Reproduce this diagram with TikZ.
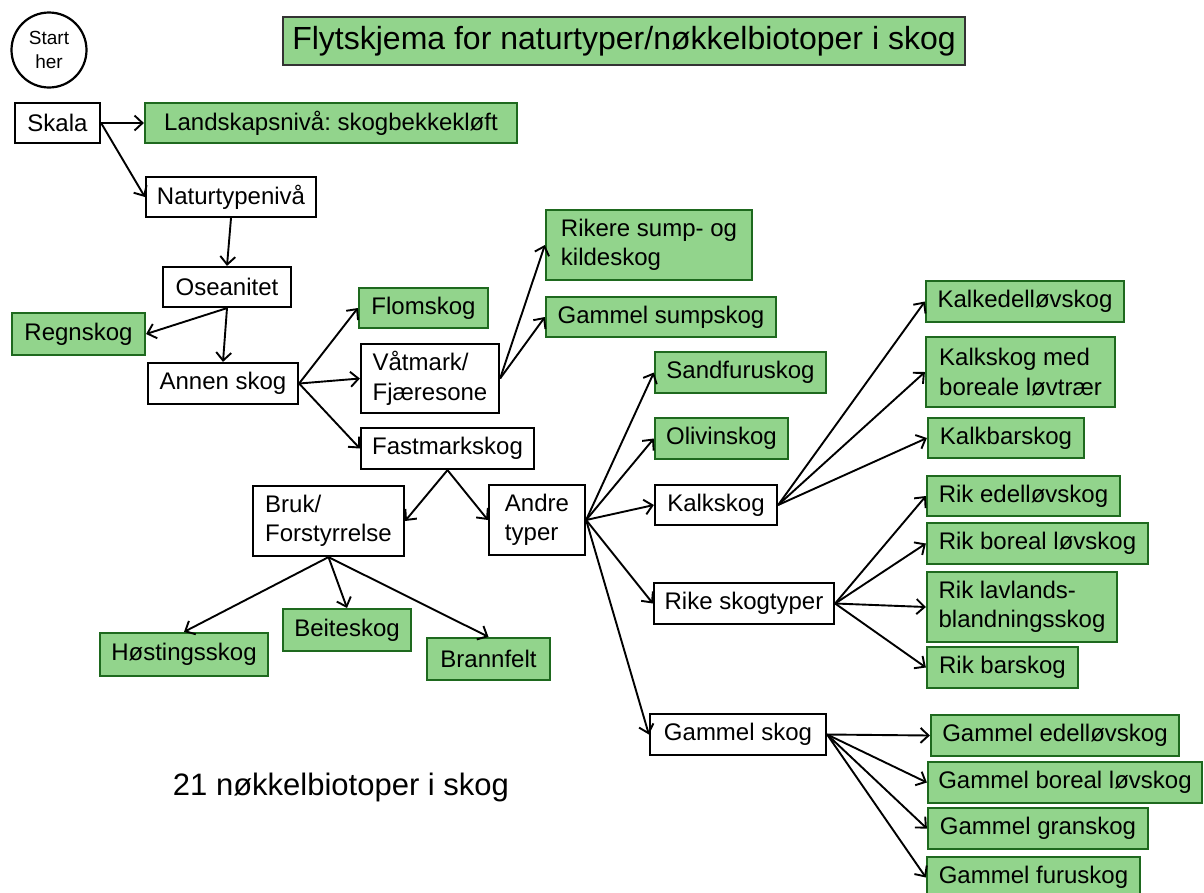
\documentclass[tikz,border=0pt]{standalone}
\usepackage{fontspec}
\setmainfont{Liberation Sans}
\usetikzlibrary{arrows.meta}
\frenchspacing
\definecolor{gfill}{RGB}{146,212,140}
\definecolor{gdraw}{RGB}{30,105,30}
\tikzset{
  base/.style={rectangle, line width=2.2pt, inner sep=0pt, align=left,
    font=\fontsize{24}{29.5}\selectfont, text=black},
  wbox/.style={base, draw=black, fill=white},
  gbox/.style={base, draw=gdraw, fill=gfill},
  conn/.style={line width=1.9pt, -{Straight Barb[length=8pt,width=15pt,line width=1.9pt]}},
}
\newcommand\bx[7]{%
  \node[#1, minimum width={(#4-#2)*1pt}, minimum height={(#5-#3)*1pt}]
    (#6) at ({(#2+#4)/2},{(#3+#5)/2}) {#7};}
\begin{document}
\begin{tikzpicture}[x=1pt,y=-1pt]
\useasboundingbox (0,0) rectangle (1204,892);
\clip (0,0) rectangle (1204,892);
\fill[white] (0,0) rectangle (1204,892);

\node[circle, draw=black, fill=white, line width=2.2pt, minimum size=75pt, inner sep=0pt,
  align=center, font=\fontsize{19}{24}\selectfont] (start) at (49,50) {Start\\her};
\bx{gbox,draw=black!80,font=\fontsize{32}{37}\selectfont}{283}{17}{965}{65}{title}{Flytskjema for naturtyper/nøkkelbiotoper i skog}

\bx{wbox}{15}{103}{100}{143}{skala}{Skala}
\bx{gbox}{145}{103}{517}{143}{land}{Landskapsnivå: skogbekkekløft}
\bx{wbox}{146}{177}{316}{217}{natur}{Naturtypenivå}
\bx{wbox}{163}{267}{291}{307}{osean}{Oseanitet}
\bx{gbox}{12}{313}{145}{355}{regn}{Regnskog}
\bx{wbox}{148}{363}{298}{404}{annen}{Annen skog}
\bx{gbox}{359}{288}{488}{328}{flom}{Flomskog}
\bx{wbox}{361}{344}{499}{413}{vat}{Våtmark/\\Fjæresone}
\bx{wbox}{361}{428}{534}{469}{fast}{Fastmarkskog}
\bx{gbox}{546}{210}{752}{280}{rikere}{Rikere sump- og\\kildeskog}
\bx{gbox}{546}{297}{776}{337}{gsump}{Gammel sumpskog}
\bx{gbox}{655}{352}{826}{393}{sand}{Sandfuruskog}
\bx{gbox}{655}{418}{788}{459}{oliv}{Olivinskog}
\bx{wbox}{655}{485}{777}{525}{kalk}{Kalkskog}
\bx{wbox}{654}{583}{834}{624}{rike}{Rike skogtyper}
\bx{wbox}{650}{714}{826}{755}{gskog}{Gammel skog}
\bx{wbox}{253}{486}{404}{556}{bruk}{Bruk/\\Forstyrrelse}
\bx{wbox}{489}{485}{585}{555}{andre}{Andre\\typer}
\bx{gbox}{100}{633}{268}{676}{host}{Høstingsskog}
\bx{gbox}{283}{609}{411}{651}{beite}{Beiteskog}
\bx{gbox}{427}{638}{550}{680}{brann}{Brannfelt}
\bx{gbox}{926}{281}{1124}{322}{kalkedel}{Kalkedelløvskog}
\bx{gbox}{926}{337}{1115}{407}{kalkmed}{Kalkskog med\\boreale løvtrær}
\bx{gbox}{928}{418}{1084}{458}{kalkbar}{Kalkbarskog}
\bx{gbox}{927}{476}{1120}{516}{rikedel}{Rik edelløvskog}
\bx{gbox}{927}{523}{1148}{564}{rikbor}{Rik boreal løvskog}
\bx{gbox}{927}{572}{1117}{642}{riklav}{Rik lavlands-\\blandningsskog}
\bx{gbox}{927}{647}{1078}{688}{rikbar}{Rik barskog}
\bx{gbox}{931}{715}{1179}{756}{gedel}{Gammel edelløvskog}
\bx{gbox}{928}{762}{1202}{803}{gbor}{Gammel boreal løvskog}
\bx{gbox}{928}{808}{1148}{849}{ggran}{Gammel granskog}
\bx{gbox}{927}{857}{1140}{898}{gfuru}{Gammel furuskog}

\node[font=\fontsize{31}{36}\selectfont] (foot) at (341,787) {21 nøkkelbiotoper i skog};

\draw[conn] (skala.east) -- (land.west);
\draw[conn] (skala.east) -- (natur.west);
\draw[conn] (natur.south) -- (osean.north);
\draw[conn] (osean.south) -- (regn.east);
\draw[conn] (osean.south) -- (annen.north);
\draw[conn] (annen.east) -- (flom.west);
\draw[conn] (annen.east) -- (vat.west);
\draw[conn] (annen.east) -- (fast.west);
\draw[conn] (vat.east) -- (rikere.west);
\draw[conn] (vat.east) -- (gsump.west);
\draw[conn] (fast.south) -- (bruk.east);
\draw[conn] (fast.south) -- (andre.west);
\draw[conn] (bruk.south) -- (host.north);
\draw[conn] (bruk.south) -- (beite.north);
\draw[conn] (bruk.south) -- (brann.north);
\draw[conn] (andre.east) -- (sand.west);
\draw[conn] (andre.east) -- (oliv.west);
\draw[conn] (andre.east) -- (kalk.west);
\draw[conn] (andre.east) -- (rike.west);
\draw[conn] (andre.east) -- (gskog.west);
\draw[conn] (kalk.east) -- (kalkedel.west);
\draw[conn] (kalk.east) -- (kalkmed.west);
\draw[conn] (kalk.east) -- (kalkbar.west);
\draw[conn] (rike.east) -- (rikedel.west);
\draw[conn] (rike.east) -- (rikbor.west);
\draw[conn] (rike.east) -- (riklav.west);
\draw[conn] (rike.east) -- (rikbar.west);
\draw[conn] (gskog.east) -- (gedel.west);
\draw[conn] (gskog.east) -- (gbor.west);
\draw[conn] (gskog.east) -- (ggran.west);
\draw[conn] (gskog.east) -- (gfuru.west);
\end{tikzpicture}
\end{document}
